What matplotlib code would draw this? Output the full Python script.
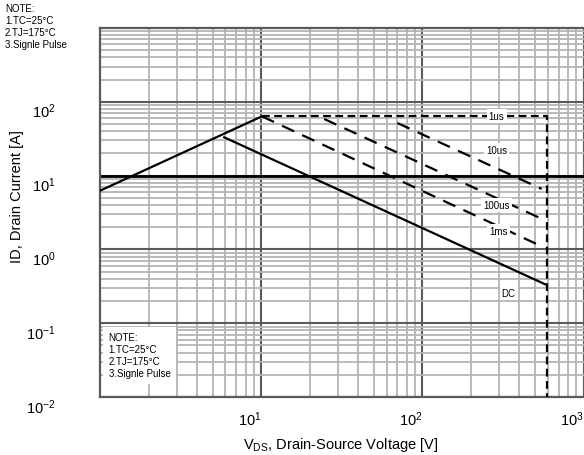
import matplotlib
matplotlib.use("Agg")
import matplotlib.pyplot as plt
from matplotlib.ticker import LogLocator, NullFormatter

plt.rcParams['font.family'] = ['Liberation Sans', 'DejaVu Sans']
plt.rcParams['mathtext.fontset'] = 'custom'
plt.rcParams['mathtext.rm'] = 'Liberation Sans'
plt.rcParams['mathtext.it'] = 'Liberation Sans'

# ---- data ----
rdson_v = [1.0, 10.1]
rdson_i = [6.24, 63.5]
us1_v = [10.1, 590, 590]
us1_i = [63.5, 63.5, 0.01]
us10_v = [70, 550]
us10_i = [51.6, 6.6]
us100_v = [24.6, 550]
us100_i = [58.5, 2.6]
ms1_v = [10.1, 550]
ms1_i = [63.5, 1.1]
dc_v = [5.9, 590]
dc_i = [33.0, 0.33]

curve_labels = ["1us", "10us", "100us", "1ms", "DC"]
label_v = [289, 289, 289, 298, 343]
label_i = [64.3, 22.2, 4.0, 1.78, 0.257]

xticks = [10, 100, 1000]
xticklabels = [r"$10^{1}$", r"$10^{2}$", r"$10^{3}$"]
yticks = [0.01, 0.1, 1, 10, 100]
yticklabels = [r"$10^{-2}$", r"$10^{-1}$", r"$10^{0}$", r"$10^{1}$", r"$10^{2}$"]
note_text = "NOTE:\n1.TC=25°C\n2.TJ=175°C\n3.Signle Pulse"

fig = plt.figure(figsize=(5.84, 4.56), dpi=100)
ax = fig.add_axes([100/584, 58/456, 483.5/584, 369/456])
ax.set_xscale('log')
ax.set_yscale('log')
ax.set_xlim(1, 1000)
ax.set_ylim(0.01, 1000)

# grid
ax.xaxis.set_minor_locator(LogLocator(base=10, subs=range(2, 10)))
ax.yaxis.set_minor_locator(LogLocator(base=10, subs=range(2, 10)))
ax.xaxis.set_minor_formatter(NullFormatter())
ax.yaxis.set_minor_formatter(NullFormatter())
ax.grid(which='minor', color='#b4b4b4', linewidth=1.3, zorder=0)
ax.grid(which='major', color='#5a5a5a', linewidth=1.5, zorder=0)
ax.axhline(10, color='black', linewidth=2.0, zorder=1)
ax.set_axisbelow(True)

for s in ['left', 'top', 'bottom']:
    ax.spines[s].set_color('#5a5a5a')
    ax.spines[s].set_linewidth(1.6)
ax.spines['right'].set_visible(False)

ax.set_xticks(xticks)
ax.set_xticklabels(xticklabels, fontsize=10.5, ha='right')
ax.set_yticks(yticks)
ax.set_yticklabels(yticklabels, fontsize=10.5, va='top')
ax.tick_params(which='both', length=0)
ax.tick_params(axis='y', pad=32)
ax.tick_params(axis='x', pad=9)

# curves
lw = 1.6
ax.plot(rdson_v, rdson_i, color='black', lw=lw, zorder=3)
ax.plot(dc_v, dc_i, color='black', lw=lw, zorder=3)
ax.plot(us1_v, us1_i, color='black', lw=lw, dashes=(3.5, 2), zorder=3)
ax.plot(us10_v, us10_i, color='black', lw=lw, dashes=(6, 4), zorder=3)
ax.plot(us100_v, us100_i, color='black', lw=lw, dashes=(6, 4), zorder=3)
ax.plot(ms1_v, ms1_i, color='black', lw=lw, dashes=(6, 4), zorder=3)

for t, v, i in zip(curve_labels, label_v, label_i):
    ax.text(v, i, t, fontsize=7, ha='center', va='center', zorder=5,
            bbox=dict(facecolor='white', edgecolor='none', pad=1.5))

# notes
fig.text(5/584, 1 - 4/456, note_text, fontsize=7, ha='left', va='top',
         linespacing=1.25)
ax.text(0.018, 0.175, note_text, transform=ax.transAxes, fontsize=7,
        ha='left', va='top', linespacing=1.25, zorder=5,
        bbox=dict(facecolor='white', edgecolor='none', pad=4))

ax.set_xlabel(r"V$_{\mathregular{DS}}$, Drain-Source Voltage [V]", fontsize=10.5)
ax.xaxis.set_label_coords((341 - 100) / 483.5, -(436 - 398) / 369)
ax.set_ylabel("ID, Drain Current [A]", fontsize=10.5)
ax.yaxis.set_label_coords((24 - 100) / 483.5, (398 - 197) / 369)

fig.savefig("out.png", dpi=100)
